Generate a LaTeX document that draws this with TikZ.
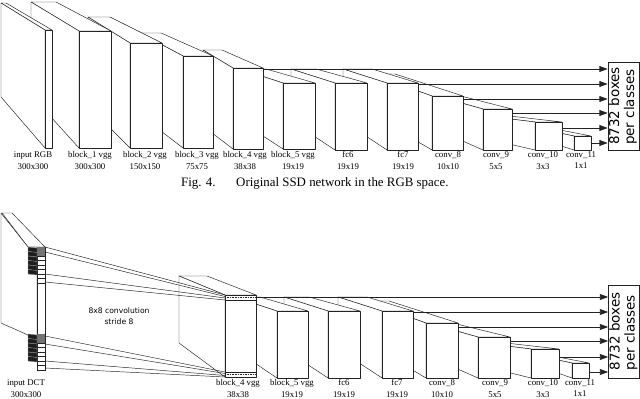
\documentclass[tikz,border=0pt]{standalone}
\usepackage{fontspec}
\setmainfont{Liberation Serif}
\newfontfamily\dejavu{DejaVu Sans}
\usepackage{graphicx}
\usetikzlibrary{arrows.meta, calc}
\definecolor{mydark}{RGB}{35,35,35}
\definecolor{patchdark}{RGB}{30,30,30}
\tikzset{
  face/.style={draw=mydark, fill=white, line width=0.4pt, line join=round},
  ray/.style={draw=mydark, line width=0.4pt},
  arrow/.style={-{Triangle[length=7pt,width=5pt]}, line width=0.6pt, color=mydark},
  lbl/.style={font=\fontsize{7.5}{10.2}\selectfont, align=center, inner sep=0pt, anchor=north},
  clsbox/.style={draw=mydark, line width=0.6pt, fill=white, inner sep=0pt,
    minimum width=0.93cm, font=\dejavu\fontsize{11.5}{12.8}\selectfont},
  captext/.style={font=\fontsize{11}{13}\selectfont, inner sep=0pt, anchor=base west},
  note/.style={font=\dejavu\fontsize{6.5}{9}\selectfont, align=center, inner sep=0pt}
}

% feature map: name, front x1 x2 top bottom, back x1 x2 top bottom
\newcommand{\fmap}[9]{%
  \filldraw[face] (#6,#8) -- (#7,#8) -- (#3,#4) -- (#2,#4) -- cycle;
  \filldraw[face] (#6,#8) -- (#2,#4) -- (#2,#5) -- (#6,#9) -- cycle;
  \filldraw[face] (#2,#4) rectangle (#3,#5);
  \coordinate (#1) at (#3,#4);
  \coordinate (#1l) at (#2,#4);
}

% stack of 8x8 patches on the DCT input: top y, name
\newcommand{\patchstack}[2]{%
  \foreach \k in {0,...,7} {
    \draw[face] (37,#1+4.5*\k) rectangle (45,#1+4.5*\k+4.5);
  }
  \foreach \k in {0,1} {
    \fill[black!55] (37,#1+4.5*\k) rectangle (45,#1+4.5*\k+4.5);
  }
  \foreach \k in {0,...,5} {
    \filldraw[fill=patchdark, draw=black!45, line width=0.3pt]
      (28,#1+4.5*\k) -- (37,#1+4.5*\k+1) -- (37,#1+4.5*\k+5.5) -- (28,#1+4.5*\k+4.5) -- cycle;
  }
  \coordinate (#2) at (45,#1);
}

\begin{document}
\begin{tikzpicture}[x=0.03cm, y=-0.03cm]
  \useasboundingbox (0,0) rectangle (640,399);

  % RGB network (drawn back to front)
  \fmap{cD}{574}{591}{136}{150}{545}{560}{130}{141}
  \fmap{cC}{535}{562}{122}{150}{470}{492}{114}{135}
  \fmap{cB}{483}{512}{109}{150}{422}{445}{92}{123}
  \fmap{cA}{432}{463}{96}{150}{370}{395}{74}{114}
  \fmap{fB}{387}{418}{83}{150}{343}{372}{69}{121}
  \fmap{fA}{335}{367}{83}{150}{291}{316}{69}{121}
  \fmap{bE}{283}{315}{83}{149}{240}{266}{69}{121}
  \fmap{bD}{233}{263}{68}{149}{203}{222}{50}{126}
  \fmap{bC}{183}{213}{56}{148}{140}{161}{33}{115}
  \fmap{bB}{130}{162}{43}{148}{88}{110}{17}{106}
  \fmap{bA}{79}{111}{31}{148}{31}{56}{2}{95}
  \fmap{rgb}{45}{52}{30}{148}{1}{6}{3}{97}

  \node[clsbox, minimum height=2.64cm] (cls) at (623.5,106)
    {\rotatebox{90}{\begin{tabular}{@{}l@{}}8732 boxes\\per classes\end{tabular}}};

  % detections
  \draw[arrow] ($(bD)+(0,1)$) coordinate (s1) -- (s1 -| cls.west);
  \draw[arrow] ($(fB)+(0,1)$) coordinate (s2) -- (s2 -| cls.west);
  \draw[arrow] ($(cA)+(0,3)$) coordinate (s3) -- (s3 -| cls.west);
  \draw[arrow] ($(cB)+(0,4)$) coordinate (s4) -- (s4 -| cls.west);
  \draw[arrow] ($(cC)+(0,6)$) coordinate (s5) -- (s5 -| cls.west);
  \draw[arrow] ($(cD)+(0,7)$) coordinate (s6) -- (s6 -| cls.west);

  \node[lbl] (lrgb) at (33,151) {input RGB\\300x300};
  \node[lbl] (lbA) at (90,151) {block\_1 vgg\\300x300};
  \node[lbl] (lbB) at (145,151) {block\_2 vgg\\150x150};
  \node[lbl] (lbC) at (197,151) {block\_3 vgg\\75x75};
  \node[lbl] (lbD) at (245,151) {block\_4 vgg\\38x38};
  \node[lbl] (lbE) at (293,151) {block\_5 vgg\\19x19};
  \node[lbl] (lfA) at (348,151) {fc6\\19x19};
  \node[lbl] (lfB) at (403,151) {fc7\\19x19};
  \node[lbl] (lcA) at (448,151) {conv\_8\\10x10};
  \node[lbl] (lcB) at (496,151) {conv\_9\\5x5};
  \node[lbl] (lcC) at (543,151) {conv\_10\\3x3};
  \node[lbl] (lcD) at (581,151) {conv\_11\\1x1};

  \node[captext] (capA) at (181,187) {Fig. 4.\hspace{1.6em}Original SSD network in the RGB space.};

  % DCT network (drawn back to front)
  \fmap{dD}{572}{589}{363}{378}{543}{558}{357}{368}
  \fmap{dC}{531}{559}{349}{378}{466}{488}{341}{362}
  \fmap{dB}{478}{510}{337}{378}{417}{440}{320}{351}
  \fmap{dA}{426}{458}{323}{378}{364}{389}{301}{341}
  \fmap{gB}{382}{413}{311}{378}{338}{367}{297}{349}
  \fmap{gA}{328}{360}{311}{378}{284}{309}{297}{349}
  \fmap{qE}{277}{308}{311}{378}{234}{260}{297}{349}
  \fmap{qD}{225}{256}{295}{377}{179}{207}{276}{343}
  \draw[ray] ($(qDl)+(0,5)$) -- ($(qD)+(0,5)$);
  \draw[ray, densely dotted, line width=0.8pt] ($(qDl)+(0,2.5)$) -- ($(qD)+(0,2.5)$);
  \draw[ray] ($(qDl)+(0,77)$) -- ($(qD)+(0,77)$);
  \draw[ray, densely dotted, line width=0.8pt] ($(qDl)+(0,79.5)$) -- ($(qD)+(0,79.5)$);

  % input DCT slab
  \filldraw[face] (2,213) -- (12,213) -- (45,247) -- (28,247) -- cycle;
  \filldraw[face] (1,213) -- (28,247) -- (37,247) -- (37,339) -- (1,323) -- cycle;
  \filldraw[face] (37,247) rectangle (45,370);
  \coordinate (dct) at (45,247);
  \patchstack{247}{pa}
  \patchstack{334}{pb}

  % 8x8 convolution, stride 8
  \foreach \a/\b in {0/0, 5/1.5, 27/3, 35/5}
    \draw[ray] ($(pa)+(0,\a)$) -- ($(qDl)+(0,\b)$);
  \foreach \a/\b in {2/77, 10/78.5, 27/80.5, 34/82}
    \draw[ray] ($(pb)+(0,\a)$) -- ($(qDl)+(0,\b)$);
  \node[note] (conv) at (119,316) {8x8 convolution\\stride 8};

  \node[clsbox, minimum height=2.79cm] (clsq) at (624,331.5)
    {\rotatebox{90}{\begin{tabular}{@{}l@{}}8732 boxes\\per classes\end{tabular}}};

  \draw[arrow] ($(qD)+(0,2)$) coordinate (t1) -- (t1 -| clsq.west);
  \draw[arrow] ($(gB)+(0,1)$) coordinate (t2) -- (t2 -| clsq.west);
  \draw[arrow] ($(dA)+(0,4)$) coordinate (t3) -- (t3 -| clsq.west);
  \draw[arrow] ($(dB)+(0,4)$) coordinate (t4) -- (t4 -| clsq.west);
  \draw[arrow] ($(dC)+(0,8)$) coordinate (t5) -- (t5 -| clsq.west);
  \draw[arrow] ($(dD)+(0,9)$) coordinate (t6) -- (t6 -| clsq.west);

  \node[lbl] (ldct) at (26,379) {input DCT\\300x300};
  \node[lbl] (lqD) at (238,379) {block\_4 vgg\\38x38};
  \node[lbl] (lqE) at (292,379) {block\_5 vgg\\19x19};
  \node[lbl] (lgA) at (344,379) {fc6\\19x19};
  \node[lbl] (lgB) at (397,379) {fc7\\19x19};
  \node[lbl] (ldA) at (442,379) {conv\_8\\10x10};
  \node[lbl] (ldB) at (495,379) {conv\_9\\5x5};
  \node[lbl] (ldC) at (543,379) {conv\_10\\3x3};
  \node[lbl] (ldD) at (580,379) {conv\_11\\1x1};
\end{tikzpicture}
\end{document}
